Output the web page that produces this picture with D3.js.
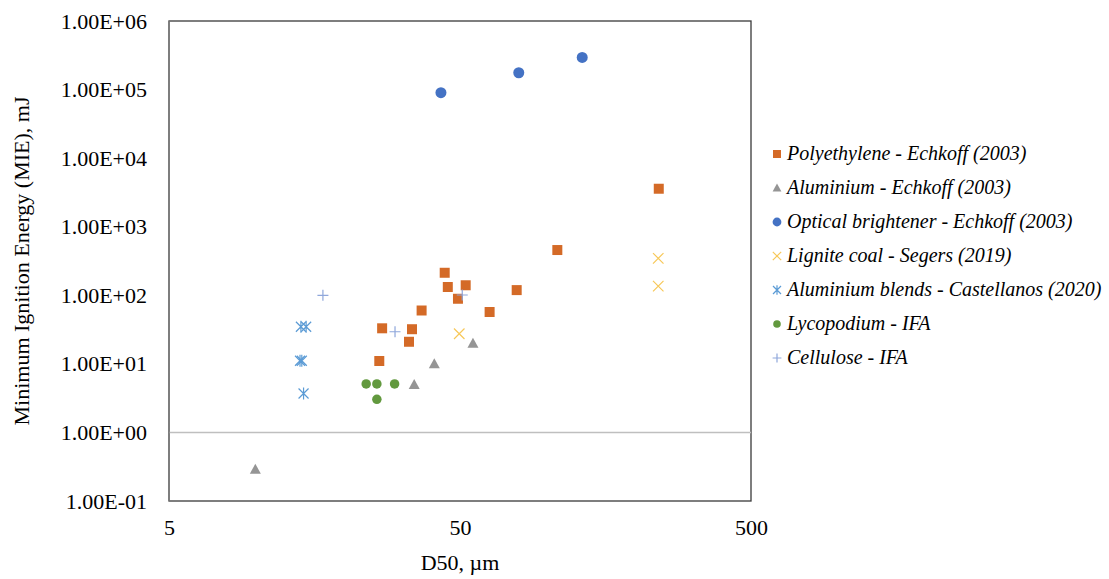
<!DOCTYPE html>
<html>
<head>
<meta charset="utf-8">
<script src="https://cdn.jsdelivr.net/npm/d3@7"></script>
<style>
  body { margin: 0; background: #fff; }
  text { font-family: "Liberation Serif", "Times New Roman", serif; fill: #000; }
</style>
</head>
<body>
<svg width="1109" height="579"></svg>
<script>
// --- data (D50 in µm, MIE in mJ) ---
const polyX = [44.3, 45.4, 52.3, 49.2, 78.3, 36.9, 63.2, 27.0, 34.2, 33.4, 26.4, 241, 108];
const polyY = [213, 132, 140, 89, 119, 60, 57, 33, 32, 21, 11, 3580, 457];
const aluX = [55.4, 40.8, 34.8, 9.9];
const aluY = [20, 10, 5, 0.29];
const optX = [43.0, 79.6, 131.5];
const optY = [90000, 176000, 294000];
const ligX = [49.7, 240, 240];
const ligY = [27.5, 346, 136];
const blendX = [14.2, 14.8, 14.1, 14.3, 14.5];
const blendY = [34.8, 34.8, 11.1, 11.1, 3.7];
const lycoX = [23.8, 25.9, 29.8, 25.9];
const lycoY = [5.1, 5.1, 5.1, 3.04];
const celX = [16.9, 29.9, 50.9];
const celY = [100, 29.4, 101];

const xTicks = [5, 50, 500];
const yTicks = [0.1, 1, 10, 100, 1000, 10000, 100000, 1000000];

const seriesNames = [
  "Polyethylene - Echkoff (2003)",
  "Aluminium - Echkoff (2003)",
  "Optical brightener - Echkoff (2003)",
  "Lignite coal - Segers (2019)",
  "Aluminium blends - Castellanos (2020)",
  "Lycopodium - IFA",
  "Cellulose - IFA"
];

const svg = d3.select('svg');
const plotLeft = 169, plotRight = 751, plotTop = 21, plotBottom = 501;

const x = d3.scaleLog().domain([5, 500]).range([plotLeft, plotRight]);
const y = d3.scaleLog().domain([0.1, 1e6]).range([plotBottom, plotTop]);

// marker path builders (centered on 0,0)
const markers = {
  square: s => `M${-s/2},${-s/2}h${s}v${s}h${-s}Z`,
  triangle: s => `M0,${-s*0.55}L${s*0.55},${s*0.45}L${-s*0.55},${s*0.45}Z`,
  circle: s => d3.symbol(d3.symbolCircle, Math.PI * s * s / 4)(),
  cross: s => `M${-s/2},${-s/2}L${s/2},${s/2}M${s/2},${-s/2}L${-s/2},${s/2}`,
  star: s => `M${-s/2},${-s/2}L${s/2},${s/2}M${s/2},${-s/2}L${-s/2},${s/2}M0,${-s*0.6}V${s*0.6}`,
  plus: s => `M${-s/2},0H${s/2}M0,${-s/2}V${s/2}`
};

const series = [
  { xs: polyX, ys: polyY, shape: 'square', size: 10, fill: '#d46a27', stroke: 'none' },
  { xs: aluX, ys: aluY, shape: 'triangle', size: 10, fill: '#959595', stroke: 'none' },
  { xs: optX, ys: optY, shape: 'circle', size: 11, fill: '#4472c4', stroke: 'none' },
  { xs: ligX, ys: ligY, shape: 'cross', size: 10.5, fill: 'none', stroke: '#f7c859' },
  { xs: blendX, ys: blendY, shape: 'star', size: 10, fill: 'none', stroke: '#5b9bd5' },
  { xs: lycoX, ys: lycoY, shape: 'circle', size: 9.5, fill: '#62993e', stroke: 'none' },
  { xs: celX, ys: celY, shape: 'plus', size: 11, fill: 'none', stroke: '#8fa7db' }
];

// plot frame
svg.append('rect')
  .attr('x', plotLeft).attr('y', plotTop)
  .attr('width', plotRight - plotLeft).attr('height', plotBottom - plotTop)
  .attr('fill', 'none').attr('stroke', '#3a3a3a').attr('stroke-width', 1.3);

// horizontal axis line crosses at MIE = 1 (Excel log default)
svg.append('line')
  .attr('x1', plotLeft).attr('x2', plotRight)
  .attr('y1', y(1)).attr('y2', y(1))
  .attr('stroke', '#bfbfbf').attr('stroke-width', 1.5);

// left axis line
svg.append('line')
  .attr('x1', plotLeft).attr('x2', plotLeft)
  .attr('y1', plotTop).attr('y2', plotBottom)
  .attr('stroke', '#7f7f7f').attr('stroke-width', 1.5);

const fmtE = v => {
  const e = Math.round(Math.log10(v));
  return "1.00E" + (e < 0 ? "-" : "+") + String(Math.abs(e)).padStart(2, "0");
};

const yAxis = d3.axisLeft(y).tickValues(yTicks).tickFormat(fmtE).tickSize(0).tickPadding(22);
const gy = svg.append('g').attr('transform', `translate(${plotLeft},0)`).call(yAxis);
gy.select('.domain').remove();
gy.selectAll('text').style('font-size', '22px').style('font-family', '"Liberation Serif", serif');

const xAxis = d3.axisBottom(x).tickValues(xTicks).tickFormat(d3.format('d')).tickSize(0).tickPadding(18);
const gx = svg.append('g').attr('transform', `translate(0,${plotBottom})`).call(xAxis);
gx.select('.domain').remove();
gx.selectAll('text').style('font-size', '22px').style('font-family', '"Liberation Serif", serif');

// axis titles
svg.append('text')
  .attr('x', (plotLeft + plotRight) / 2).attr('y', 570)
  .attr('text-anchor', 'middle')
  .style('font-size', '22px')
  .text('D50, µm');

svg.append('text')
  .attr('transform', 'translate(29,' + (plotTop + plotBottom) / 2 + ') rotate(-90)')
  .attr('text-anchor', 'middle')
  .style('font-size', '22px')
  .text('Minimum Ignition Energy (MIE), mJ');

// points
series.forEach(s => {
  svg.append('g').selectAll('path')
    .data(s.xs.map((v, i) => [v, s.ys[i]]))
    .enter()
    .append('path')
      .attr('transform', d => `translate(${x(d[0])},${y(d[1])})`)
      .attr('d', markers[s.shape](s.size))
      .attr('fill', s.fill)
      .attr('stroke', s.stroke)
      .attr('stroke-width', 1.2);
});

// legend
const legend = svg.append('g');
series.forEach((s, i) => {
  const ly = 154 + i * 34;
  legend.append('path')
    .attr('transform', `translate(777,${ly})`)
    .attr('d', markers[s.shape](s.size * 0.8))
    .attr('fill', s.fill)
    .attr('stroke', s.stroke)
    .attr('stroke-width', 1.2);
  legend.append('text')
    .attr('x', 787).attr('y', ly + 6)
    .style('font-size', '20px')
    .style('font-style', 'italic')
    .text(seriesNames[i]);
});
</script>
</body>
</html>
